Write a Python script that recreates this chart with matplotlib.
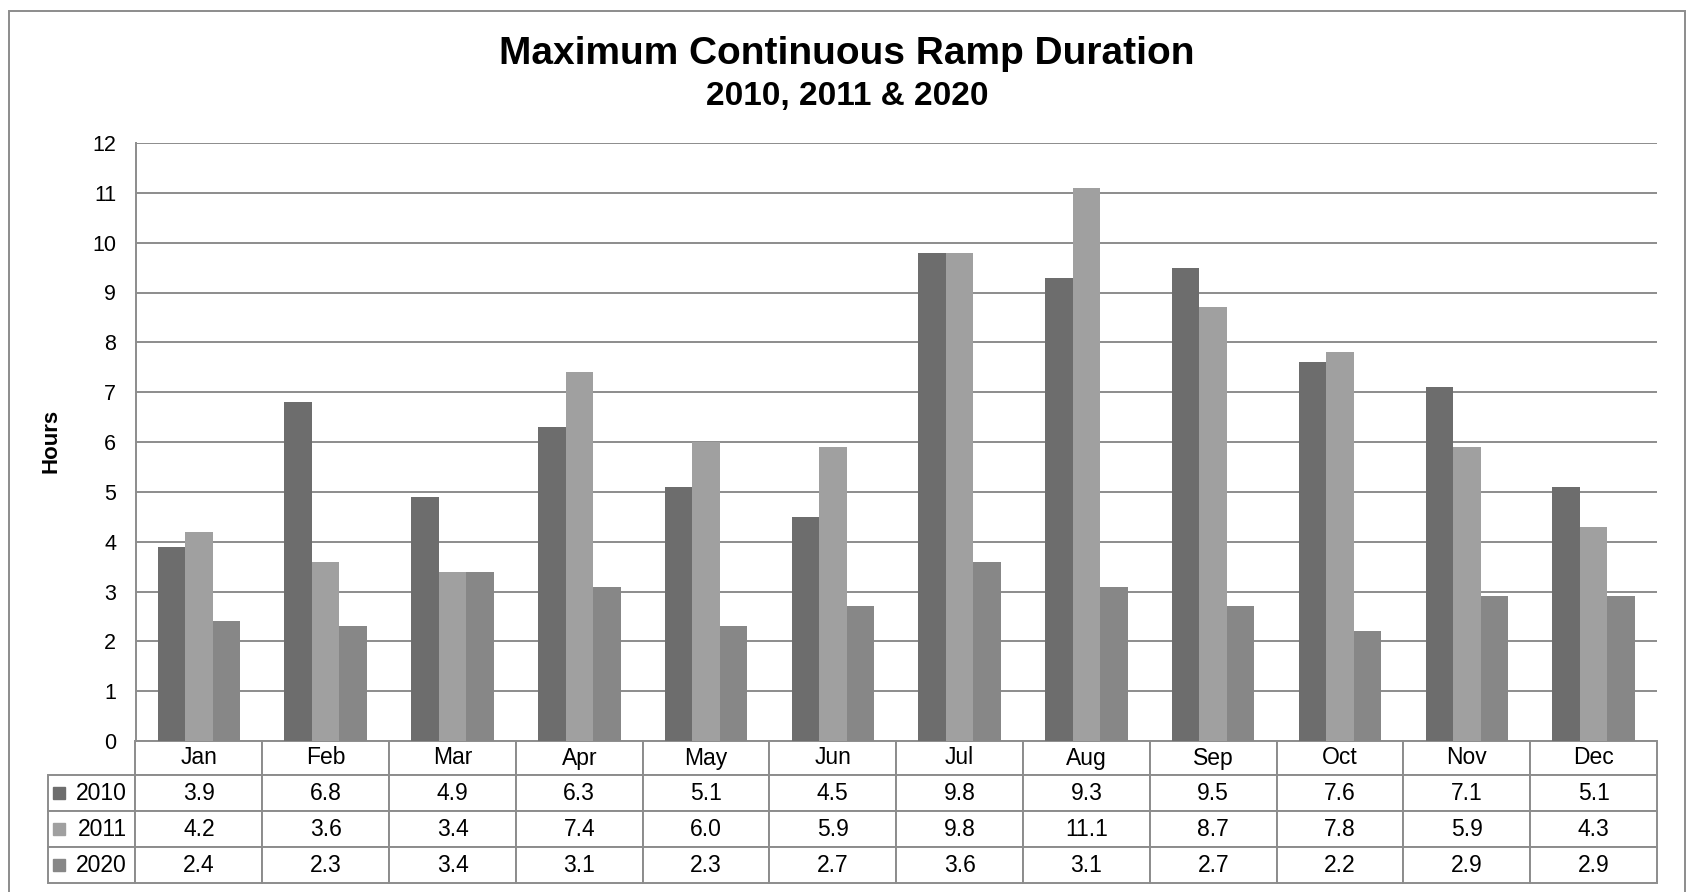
import matplotlib
matplotlib.use('Agg')
import matplotlib.pyplot as plt
from matplotlib.table import Table
from matplotlib.patches import Rectangle
import numpy as np

months = ['Jan', 'Feb', 'Mar', 'Apr', 'May', 'Jun', 'Jul', 'Aug', 'Sep', 'Oct', 'Nov', 'Dec']
years = ['2010', '2011', '2020']
v2010 = [3.9, 6.8, 4.9, 6.3, 5.1, 4.5, 9.8, 9.3, 9.5, 7.6, 7.1, 5.1]
v2011 = [4.2, 3.6, 3.4, 7.4, 6.0, 5.9, 9.8, 11.1, 8.7, 7.8, 5.9, 4.3]
v2020 = [2.4, 2.3, 3.4, 3.1, 2.3, 2.7, 3.6, 3.1, 2.7, 2.2, 2.9, 2.9]
series = [v2010, v2011, v2020]
colors = ['#6d6d6d', '#a0a0a0', '#878787']
line_c = '#8c8c8c'

plt.rcParams['font.family'] = ['Liberation Sans', 'DejaVu Sans']

W, H = 1687, 892
fig = plt.figure(figsize=(W / 100, H / 100), dpi=100)
ax_l, ax_r, ax_t, ax_b = 135.5, 1657, 143, 741
ax = fig.add_axes([ax_l / W, 1 - ax_b / H, (ax_r - ax_l) / W, (ax_b - ax_t) / H])

x = np.arange(len(months))
bw = 0.217
for i, (vals, c) in enumerate(zip(series, colors)):
    ax.bar(x + (i - 1) * bw, vals, width=bw, color=c, edgecolor='none', zorder=3)

ax.set_xlim(-0.5, 11.5)
ax.set_ylim(0, 12)
ax.set_yticks(range(13))
ax.yaxis.grid(True, color=line_c, lw=1.4)
ax.set_axisbelow(True)
ax.tick_params(axis='y', length=0, pad=14, labelsize=15.5)
ax.set_xticks([])
for s in ['top', 'right', 'bottom']:
    ax.spines[s].set_visible(False)
ax.spines['left'].set_color(line_c)
ax.spines['left'].set_linewidth(1.4)

# data table
axh = ax_b - ax_t
axw = ax_r - ax_l
hh = 34 / axh
rh = 36 / axh
lab_w = 87 / axw
tot_h = hh + 3 * rh
tb = Table(ax, bbox=[0, -tot_h, 1, tot_h])
for j, m in enumerate(months):
    tb.add_cell(0, j, width=1 / 12, height=hh, text=m, loc='center')
for i, (yr, vals) in enumerate(zip(years, series)):
    tb.add_cell(i + 1, -1, width=lab_w, height=rh, text=yr, loc='right')
    for j, v in enumerate(vals):
        tb.add_cell(i + 1, j, width=1 / 12, height=rh, text=f'{v:.1f}', loc='center')
tb.auto_set_font_size(False)
tb.set_fontsize(16.5)
for cell in tb.get_celld().values():
    cell.set_edgecolor(line_c)
    cell.set_linewidth(1.4)
ax.add_table(tb)

# legend keys in row label cells
for i, c in enumerate(colors):
    yc = -hh - (i + 0.5) * rh
    ax.plot([(59 - ax_l) / axw], [yc], marker='s', ms=8, color=c,
            transform=ax.transAxes, clip_on=False, ls='none')

# titles
fig.text(847 / W, 1 - 54 / H, 'Maximum Continuous Ramp Duration', ha='center', va='center',
         fontsize=28, fontweight='bold')
fig.text(847 / W, 1 - 96 / H, '2010, 2011 & 2020', ha='center', va='center',
         fontsize=24, fontweight='bold')
fig.text(51 / W, 1 - 441 / H, 'Hours', rotation=90, ha='center', va='center',
         fontsize=16, fontweight='bold')

# outer frame
fig.patches.append(Rectangle((9 / W, -0.05), (1685 - 9) / W, (1 - 11 / H) + 0.05,
                             transform=fig.transFigure, fill=False, ec=line_c, lw=1.4))

fig.savefig('out.png', dpi=100)
